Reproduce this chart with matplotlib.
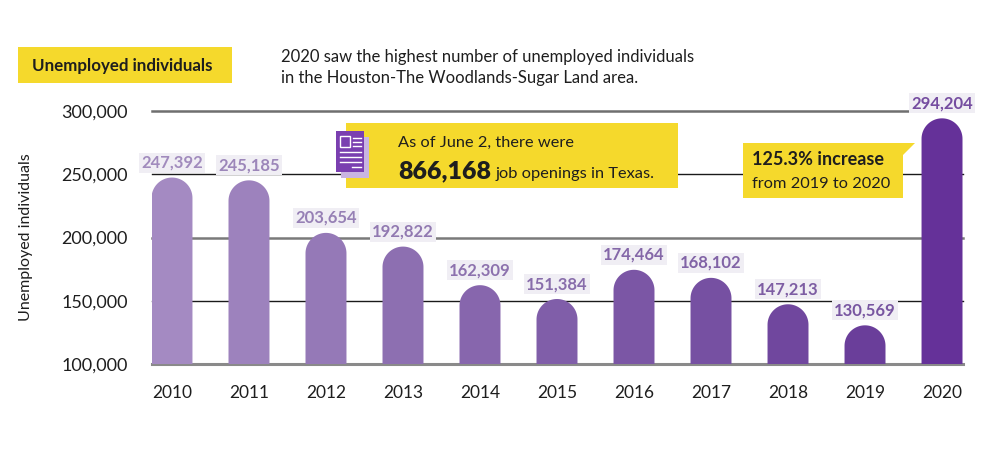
import numpy as np
import matplotlib
matplotlib.use("Agg")
import matplotlib.pyplot as plt
from matplotlib.patches import Polygon, Rectangle
from matplotlib import colors as mcolors

plt.rcParams['font.family'] = ['Lato', 'DejaVu Sans']

# data
years = ['2010', '2011', '2012', '2013', '2014', '2015', '2016', '2017', '2018', '2019', '2020']
unemployed = [247392, 245185, 203654, 192822, 162309, 151384, 174464, 168102, 147213, 130569, 294204]
y_ticks = [100000, 150000, 200000, 250000, 300000]

title = 'Unemployed individuals'
subtitle = ['2020 saw the highest number of unemployed individuals',
            'in the Houston-The Woodlands-Sugar Land area.']
ylabel = 'Unemployed individuals'

bar_colors = ['#a48ac2', '#9d82bd', '#9579b7', '#8d6fb1', '#8766ad', '#805ea9',
              '#7b56a5', '#7650a2', '#70479e', '#6a3e9a', '#653199']
yellow = '#f5d92c'
dark = '#1e1e1e'

W, H = 1000, 458
fig = plt.figure(figsize=(W / 100, H / 100), dpi=100)


def fx(x):
    return x / W


def fy(y):
    return 1 - y / H


ax = fig.add_axes([151.5 / W, 94 / H, 811 / W, 253 / H])
x = np.arange(len(years))
bw = 0.532
ax.set_xlim(-bw / 2, len(years) - 1 + bw / 2)
ax.set_ylim(y_ticks[0], y_ticks[-1])
for s in ax.spines.values():
    s.set_visible(False)

# horizontal rules, alternating grey / black
grid_style = {100000: ('#8a8a8a', 2.2), 150000: ('#1a1a1a', 1.0), 200000: ('#7a7a7a', 1.8),
              250000: ('#1a1a1a', 1.0), 300000: ('#6f6f6f', 1.8)}
for t in y_ticks:
    c, lw = grid_style[t]
    ax.axhline(t, color=c, lw=lw, zorder=1, clip_on=False)

# rounded-top bars
sx = ax.transData.transform((1, 0))[0] - ax.transData.transform((0, 0))[0]
sy = ax.transData.transform((0, 1))[1] - ax.transData.transform((0, 0))[1]
ry = (bw / 2) * sx / sy
theta = np.linspace(0, np.pi, 60)
base = y_ticks[0]
for xi, v, c in zip(x, unemployed, bar_colors):
    cy = v - ry
    xs = list(xi + (bw / 2) * np.cos(theta))
    ys = list(cy + ry * np.sin(theta))
    pts = [(xi + bw / 2, base)] + list(zip(xs, ys)) + [(xi - bw / 2, base)]
    ax.add_patch(Polygon(pts, closed=True, facecolor=c, edgecolor='none', zorder=2))
    lc = mcolors.to_rgb(c)
    lc = tuple(0.7 * a + 0.3 * b for a, b in zip(lc, mcolors.to_rgb('#9a8fb0')))
    ax.annotate(f'{v:,}', (xi, v), xytext=(0, 5), textcoords='offset points',
                ha='center', va='bottom', fontsize=12, fontweight='bold', color=lc,
                zorder=4, annotation_clip=False,
                bbox=dict(boxstyle='square,pad=0.12', fc='#f0eef4', ec='none'))

ax.set_xticks(x)
ax.set_xticklabels(years, fontsize=12.5, color=dark)
ax.set_yticks(y_ticks)
ax.set_yticklabels([f'{t:,}' for t in y_ticks], fontsize=13, color=dark)
ax.tick_params(axis='both', length=0)
ax.tick_params(axis='x', pad=15)
ax.tick_params(axis='y', pad=17)
ax.set_ylabel(ylabel, fontsize=11.5, color=dark)
ax.yaxis.set_label_coords(-118 / 811, 0.5)

# title box
fig.add_artist(Rectangle((fx(18), fy(83)), fx(214), 36 / H, transform=fig.transFigure,
                         fc=yellow, ec='none'))
fig.text(fx(32), fy(66), title, fontsize=12.2, fontweight='bold', color=dark, va='center')
fig.text(fx(281), fy(57), subtitle[0], fontsize=12, color=dark, va='center')
fig.text(fx(281), fy(78), subtitle[1], fontsize=12, color=dark, va='center')

# callout 1 with document icon
fig.add_artist(Rectangle((fx(346), fy(188)), fx(332), 65 / H, transform=fig.transFigure,
                         fc=yellow, ec='none', zorder=2))
fig.add_artist(Rectangle((fx(341), fy(178)), fx(28), 41 / H, transform=fig.transFigure,
                         fc='#c9b5e0', ec='none', zorder=3))
fig.add_artist(Rectangle((fx(336), fy(172)), fx(28), 41 / H, transform=fig.transFigure,
                         fc='#7a3fb0', ec='none', zorder=3))
fig.add_artist(Rectangle((fx(340), fy(147)), fx(10), 11 / H, transform=fig.transFigure,
                         fc='none', ec='white', lw=1.0, zorder=4))
for (x0, x1, yy) in [(353, 361, 138), (353, 361, 142), (353, 361, 146),
                     (340, 361, 152), (340, 361, 157), (340, 361, 162), (352, 361, 167)]:
    fig.add_artist(plt.Line2D([fx(x0), fx(x1)], [fy(yy), fy(yy)], transform=fig.transFigure,
                              color='white', lw=1.0, zorder=4))
fig.text(fx(398), fy(143), 'As of June 2, there were', fontsize=11.8, color=dark,
         va='center', zorder=5)
big = fig.text(fx(398), fy(178), '866,168', fontsize=18, fontweight='heavy', color=dark,
               va='baseline', zorder=5)
fig.canvas.draw()
bb = big.get_window_extent()
fig.text(bb.x1 / W + fx(5), fy(178), 'job openings in Texas.', fontsize=11.8, color=dark,
         va='baseline', zorder=5)

# callout 2 with pointer
fig.add_artist(Polygon([(fx(743), fy(143)), (fx(915), fy(143)), (fx(903), fy(155)),
                        (fx(903), fy(198)), (fx(743), fy(198))], closed=True,
                       transform=fig.transFigure, fc=yellow, ec='none', zorder=2))
fig.text(fx(752), fy(160), '125.3% increase', fontsize=13, fontweight='bold', color=dark,
         va='center', zorder=5)
fig.text(fx(752), fy(184), 'from 2019 to 2020', fontsize=11.8, color=dark,
         va='center', zorder=5)

fig.savefig('out.png', dpi=100, facecolor='white')
